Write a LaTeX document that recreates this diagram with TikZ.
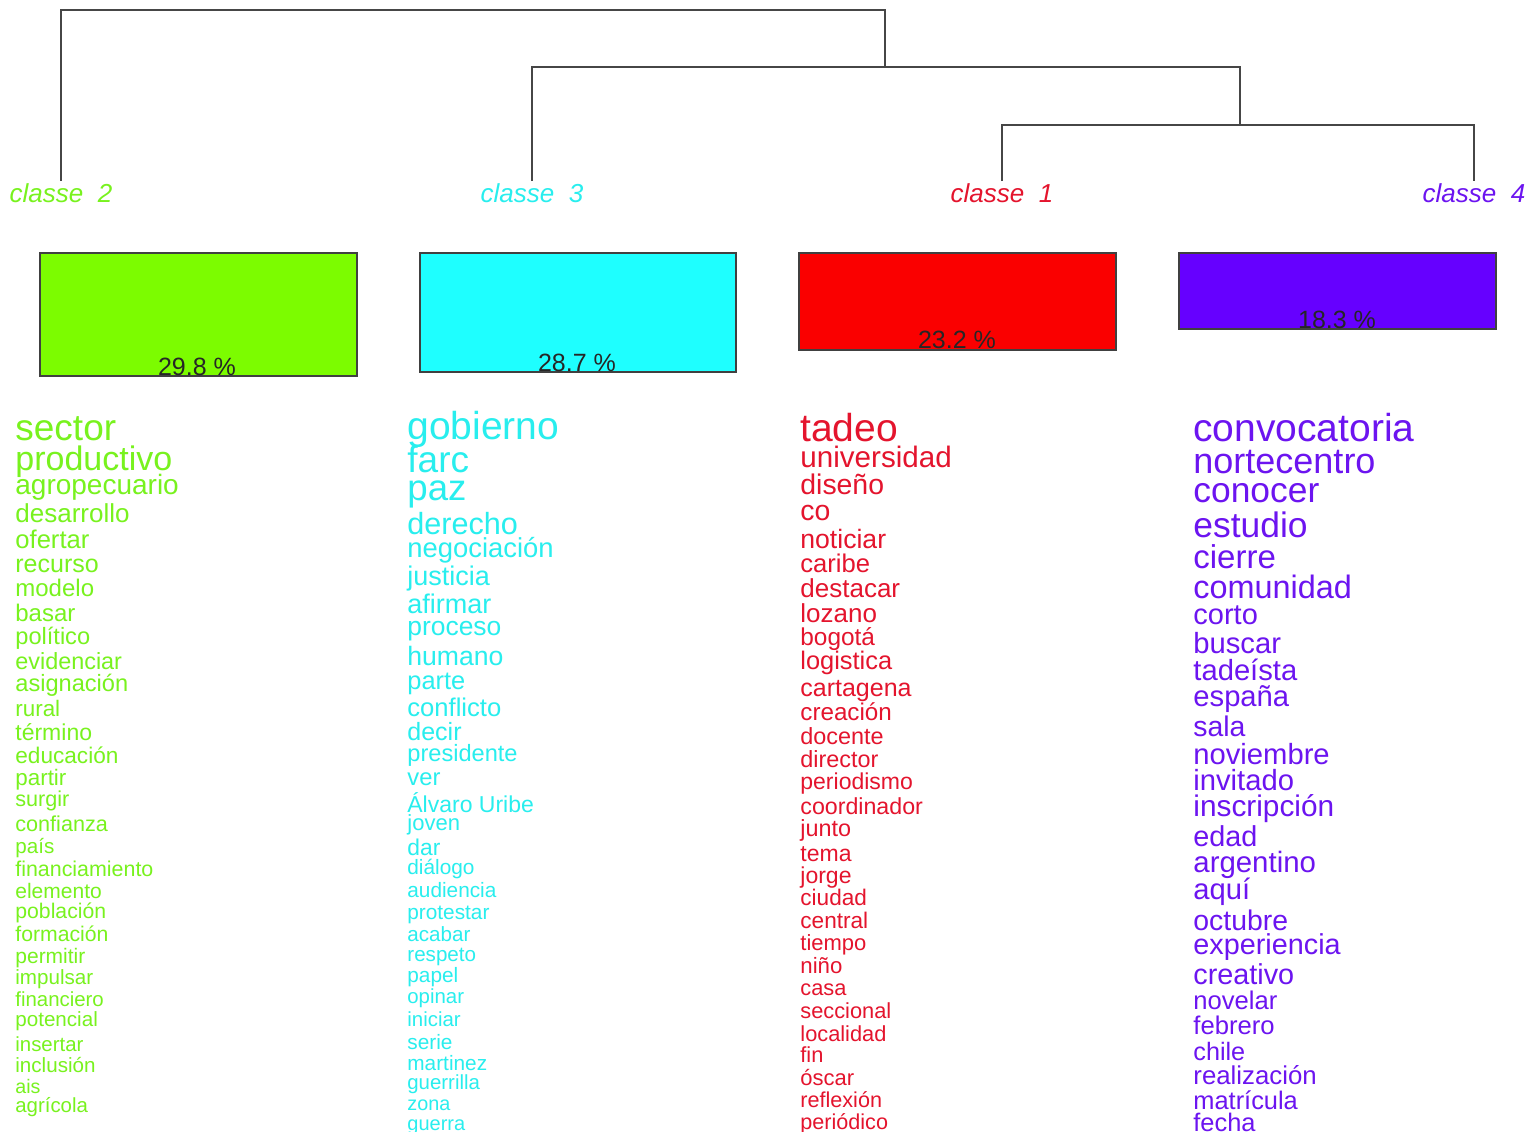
\documentclass[tikz,border=0pt]{standalone}
\usepackage{fontspec}
\setmainfont{Liberation Sans}
\definecolor{gbox}{RGB}{124,252,0}
\definecolor{cbox}{RGB}{30,255,255}
\definecolor{rbox}{RGB}{250,0,0}
\definecolor{pbox}{RGB}{102,0,255}
\definecolor{gtxt}{RGB}{120,242,30}
\definecolor{ctxt}{RGB}{40,238,238}
\definecolor{rtxt}{RGB}{228,20,45}
\definecolor{ptxt}{RGB}{108,20,240}
\definecolor{dend}{RGB}{70,70,70}
\tikzset{
  dendro/.style={draw=dend, line width=1pt},
  lab/.style={inner sep=1pt, font=\fontsize{13}{13}\selectfont\itshape},
  bar/.style={draw=black!75, line width=0.8pt},
  pct/.style={anchor=base, inner sep=0pt, text=black!85, font=\fontsize{12.5}{12.5}\selectfont},
  word/.style={anchor=mid west, inner sep=0pt, font=\fontsize{#1}{#1}\selectfont}
}
\begin{document}
\begin{tikzpicture}[x=0.5pt,y=-0.5pt]
\useasboundingbox (0,0) rectangle (1535,1131);
\clip (0,0) rectangle (1535,1131);
\fill[white] (0,0) rectangle (1535,1131);

% class labels
\node[lab, text=gtxt] (L2) at (61,193) {classe\ \ 2};
\node[lab, text=ctxt] (L3) at (532,193) {classe\ \ 3};
\node[lab, text=rtxt] (L1) at (1002,193) {classe\ \ 1};
\node[lab, text=ptxt] (L4) at (1474,193) {classe\ \ 4};

% dendrogram
\coordinate (c14) at (1240,125);
\coordinate (c314) at (885,67);
\coordinate (root) at (472,10);
\draw[dendro] (L1.north) |- (c14) -| (L4.north);
\draw[dendro] (L3.north) |- (c314) -| (c14);
\draw[dendro] (L2.north) |- (root) -| (c314);

% bars
\draw[bar, fill=gbox] (40,253) rectangle (357,376);
\draw[bar, fill=cbox] (420,253) rectangle (736,372);
\draw[bar, fill=rbox] (799,253) rectangle (1116,350);
\draw[bar, fill=pbox] (1179,253) rectangle (1496,329);
\node[pct] (P2) at (197,375) {29.8 \%};
\node[pct] (P3) at (577,371) {28.7 \%};
\node[pct] (P1) at (957,348) {23.2 \%};
\node[pct] (P4) at (1337,328) {18.3 \%};

% column 1 (classe 2)
\foreach \w/\y/\s [count=\i] in {
sector/430/18.5, productivo/460/17, agropecuario/485/14, desarrollo/513/13,
ofertar/539/12.8, recurso/563/12.5, modelo/588/12, basar/613/12,
político/636/11.8, evidenciar/661/11.7, asignación/683/11.8, rural/708/11.2,
término/732/11.5, educación/755/11.3, partir/777/11.2, surgir/798/10.8,
confianza/823/10.8, país/845/10.3, financiamiento/868/10.7, elemento/890/10.5,
población/910/10.6, formación/933/10.6, permitir/955/10.5, impulsar/976/10.3,
financiero/998/10.2, potencial/1018/10.3, insertar/1043/10.2, inclusión/1064/10.3,
ais/1085/9.8, agrícola/1104/10.2}
{ \node[word=\s, text=gtxt] (a\i) at (15,{\y+0.3*\s}) {\w}; }

% column 2 (classe 3)
\foreach \w/\y/\s [count=\i] in {
gobierno/428/19.5, farc/462/18.5, paz/490/18.3, derecho/525/15.3,
negociación/548/13.7, justicia/576/13.5, afirmar/604/13.5, proceso/626/13.2,
humano/656/13.3, parte/680/12.7, conflicto/707/12.8, decir/731/12.5,
presidente/753/11.8, ver/777/11.9, Álvaro Uribe/804/11.5, joven/822/11,
dar/847/11.4, diálogo/866/10.4, audiencia/889/10.4, protestar/911/10.4,
acabar/933/10.3, respeto/953/10.3, papel/974/10.4, opinar/995/10.2,
iniciar/1018/10.2, serie/1041/10.4, martinez/1062/10.4, guerrilla/1081/10.2,
zona/1102/9.9, guerra/1122/10}
{ \node[word=\s, text=ctxt] (b\i) at (407,{\y+0.3*\s}) {\w}; }

% column 3 (classe 1)
\foreach \w/\y/\s [count=\i] in {
tadeo/430/19.5, universidad/458/14.8, diseño/485/14.2, co/511/14.2,
noticiar/539/13.3, caribe/563/12.8, destacar/588/13, lozano/613/13,
bogotá/637/12.2, logistica/660/12.7, cartagena/687/12.5, creación/712/12.1,
docente/736/11.7, director/759/11.7, periodismo/781/11.5, coordinador/806/11.6,
junto/828/11.7, tema/853/11.5, jorge/875/11.5, ciudad/897/11.3,
central/920/11.3, tiempo/942/11, niño/965/11.1, casa/987/10.9,
seccional/1010/10.9, localidad/1033/10.9, fin/1054/10.9, óscar/1077/11,
reflexión/1099/10.8, periódico/1121/10.8}
{ \node[word=\s, text=rtxt] (c\i) at (800,{\y+0.3*\s}) {\w}; }

% column 4 (classe 4)
\foreach \w/\y/\s [count=\i] in {
convocatoria/430/19.5, nortecentro/463/18, conocer/492/17.7, estudio/527/17.7,
cierre/558/16.5, comunidad/588/16.2, corto/615/14.5, buscar/644/14.6,
tadeísta/671/14.6, españa/697/14.6, sala/727/14.2, noviembre/755/14.6,
invitado/781/14.6, inscripción/807/14.9, edad/837/14.4, argentino/863/14.7,
aquí/890/14.6, octubre/921/14.2, experiencia/945/14.4, creativo/975/14.4,
novelar/1000/12.8, febrero/1025/12.8, chile/1051/12.6, realización/1075/12.9,
matrícula/1100/12.7, fecha/1122/12.7}
{ \node[word=\s, text=ptxt] (d\i) at (1193,{\y+0.3*\s}) {\w}; }
\end{tikzpicture}
\end{document}
